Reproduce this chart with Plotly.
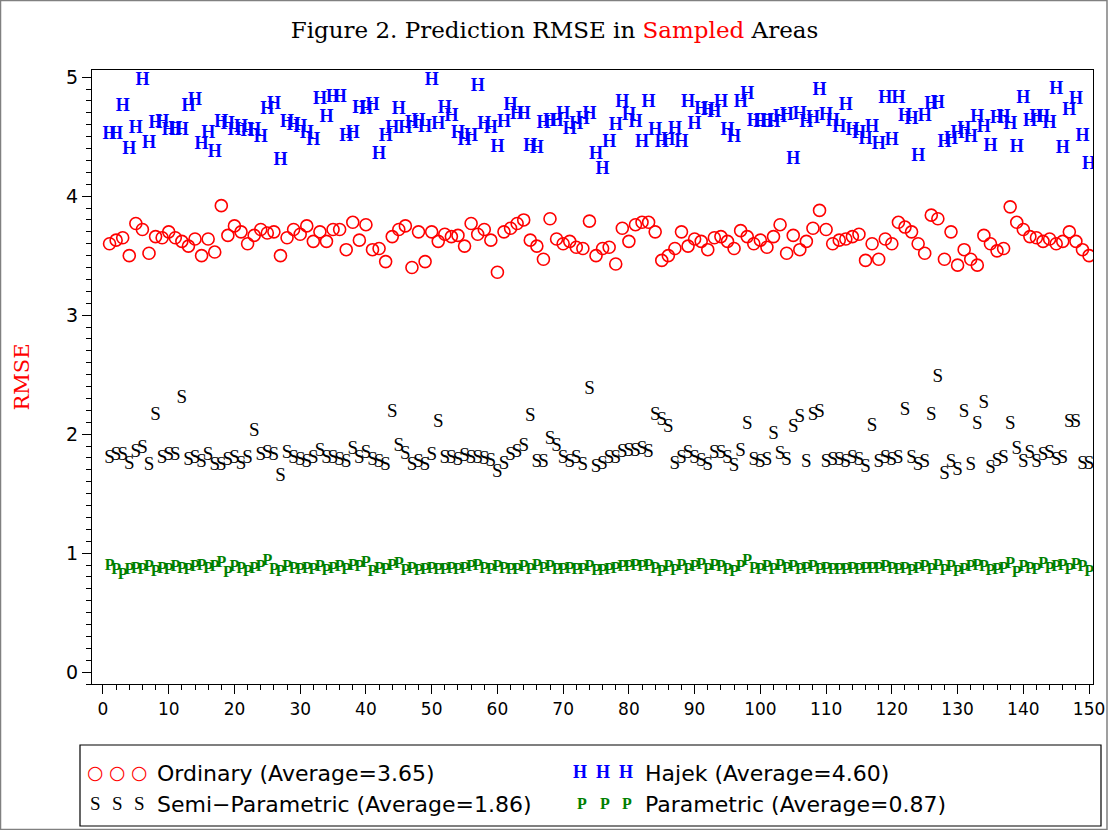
import plotly.graph_objects as go

areas = list(range(1, 151))

hajek = [4.52, 4.52, 4.75, 4.39, 4.57, 4.97, 4.44, 4.61, 4.62, 4.55,
         4.56, 4.55, 4.75, 4.80, 4.43, 4.53, 4.37, 4.62, 4.60, 4.55,
         4.58, 4.54, 4.55, 4.49, 4.73, 4.77, 4.30, 4.62, 4.59, 4.58,
         4.53, 4.47, 4.81, 4.66, 4.83, 4.83, 4.50, 4.53, 4.74, 4.73,
         4.76, 4.35, 4.50, 4.57, 4.73, 4.57, 4.61, 4.63, 4.58, 4.97,
         4.60, 4.74, 4.67, 4.53, 4.47, 4.50, 4.92, 4.60, 4.57, 4.41,
         4.62, 4.76, 4.69, 4.69, 4.42, 4.40, 4.61, 4.63, 4.63, 4.69,
         4.56, 4.60, 4.64, 4.69, 4.35, 4.22, 4.45, 4.59, 4.79, 4.68,
         4.62, 4.45, 4.79, 4.55, 4.45, 4.47, 4.56, 4.45, 4.79, 4.60,
         4.73, 4.72, 4.70, 4.79, 4.55, 4.49, 4.79, 4.85, 4.63, 4.62,
         4.63, 4.62, 4.66, 4.68, 4.31, 4.69, 4.62, 4.65, 4.89, 4.68,
         4.63, 4.58, 4.76, 4.55, 4.53, 4.48, 4.58, 4.43, 4.82, 4.47,
         4.82, 4.67, 4.64, 4.33, 4.67, 4.77, 4.78, 4.45, 4.48, 4.53,
         4.56, 4.49, 4.66, 4.58, 4.42, 4.65, 4.66, 4.60, 4.41, 4.82,
         4.63, 4.66, 4.66, 4.61, 4.90, 4.40, 4.72, 4.81, 4.50, 4.27]

ordinary = [3.60, 3.63, 3.65, 3.50, 3.77, 3.72, 3.52, 3.66, 3.65, 3.70,
            3.65, 3.62, 3.58, 3.64, 3.50, 3.64, 3.53, 3.92, 3.67, 3.75,
            3.70, 3.60, 3.67, 3.72, 3.69, 3.70, 3.50, 3.65, 3.72, 3.68,
            3.75, 3.62, 3.70, 3.62, 3.72, 3.72, 3.55, 3.78, 3.63, 3.76,
            3.55, 3.56, 3.45, 3.66, 3.72, 3.75, 3.40, 3.70, 3.45, 3.70,
            3.62, 3.68, 3.66, 3.67, 3.58, 3.77, 3.68, 3.72, 3.63, 3.36,
            3.70, 3.73, 3.77, 3.80, 3.63, 3.58, 3.47, 3.81, 3.64, 3.60,
            3.62, 3.57, 3.56, 3.79, 3.50, 3.56, 3.57, 3.43, 3.73, 3.62,
            3.76, 3.78, 3.78, 3.70, 3.46, 3.50, 3.56, 3.70, 3.58, 3.64,
            3.62, 3.55, 3.65, 3.66, 3.62, 3.56, 3.71, 3.66, 3.60, 3.63,
            3.57, 3.66, 3.76, 3.52, 3.67, 3.55, 3.62, 3.73, 3.88, 3.72,
            3.60, 3.63, 3.64, 3.66, 3.68, 3.46, 3.60, 3.47, 3.64, 3.60,
            3.78, 3.74, 3.70, 3.60, 3.52, 3.84, 3.81, 3.47, 3.70, 3.42,
            3.55, 3.47, 3.42, 3.67, 3.60, 3.54, 3.56, 3.91, 3.78, 3.72,
            3.66, 3.65, 3.62, 3.64, 3.60, 3.62, 3.70, 3.62, 3.55, 3.50]

semi = [1.80, 1.82, 1.82, 1.75, 1.85, 1.88, 1.74, 2.16, 1.80, 1.82,
        1.82, 2.30, 1.78, 1.80, 1.76, 1.82, 1.74, 1.74, 1.78, 1.80,
        1.75, 1.80, 2.02, 1.82, 1.84, 1.82, 1.65, 1.84, 1.80, 1.78,
        1.76, 1.80, 1.86, 1.80, 1.80, 1.78, 1.76, 1.87, 1.80, 1.84,
        1.78, 1.76, 1.74, 2.18, 1.90, 1.83, 1.74, 1.76, 1.74, 1.82,
        2.10, 1.80, 1.80, 1.78, 1.81, 1.80, 1.80, 1.79, 1.77, 1.68,
        1.75, 1.82, 1.85, 1.90, 2.15, 1.76, 1.76, 1.96, 1.90, 1.80,
        1.76, 1.80, 1.74, 2.38, 1.72, 1.75, 1.80, 1.80, 1.85, 1.86,
        1.86, 1.87, 1.85, 2.16, 2.12, 2.06, 1.75, 1.80, 1.84, 1.80,
        1.77, 1.74, 1.84, 1.84, 1.80, 1.73, 1.86, 2.08, 1.78, 1.76,
        1.78, 2.00, 1.83, 1.78, 2.06, 2.14, 1.76, 2.16, 2.18, 1.76,
        1.78, 1.78, 1.76, 1.80, 1.78, 1.72, 2.07, 1.76, 1.80, 1.78,
        1.80, 2.20, 1.80, 1.74, 1.76, 2.16, 2.48, 1.66, 1.76, 1.70,
        2.18, 1.74, 2.08, 2.26, 1.71, 1.77, 1.80, 2.08, 1.87, 1.76,
        1.84, 1.76, 1.82, 1.84, 1.78, 1.80, 2.10, 2.10, 1.75, 1.75]

parametric = [0.89, 0.86, 0.82, 0.86, 0.87, 0.86, 0.88, 0.84, 0.87, 0.86,
              0.88, 0.87, 0.86, 0.88, 0.89, 0.87, 0.88, 0.92, 0.83, 0.88,
              0.87, 0.84, 0.87, 0.88, 0.93, 0.86, 0.84, 0.88, 0.87, 0.86,
              0.87, 0.86, 0.88, 0.85, 0.87, 0.88, 0.86, 0.89, 0.88, 0.92,
              0.84, 0.87, 0.86, 0.89, 0.91, 0.85, 0.87, 0.85, 0.86, 0.87,
              0.86, 0.86, 0.87, 0.86, 0.87, 0.88, 0.89, 0.87, 0.86, 0.88,
              0.87, 0.86, 0.86, 0.88, 0.86, 0.89, 0.87, 0.88, 0.86, 0.86,
              0.87, 0.86, 0.86, 0.88, 0.85, 0.85, 0.86, 0.87, 0.88, 0.88,
              0.89, 0.88, 0.89, 0.87, 0.84, 0.88, 0.85, 0.89, 0.86, 0.88,
              0.90, 0.86, 0.89, 0.88, 0.86, 0.84, 0.88, 0.93, 0.87, 0.86,
              0.88, 0.86, 0.89, 0.87, 0.88, 0.86, 0.87, 0.88, 0.86, 0.87,
              0.86, 0.86, 0.86, 0.87, 0.86, 0.87, 0.87, 0.87, 0.88, 0.87,
              0.86, 0.87, 0.85, 0.87, 0.88, 0.86, 0.89, 0.85, 0.88, 0.84,
              0.86, 0.88, 0.89, 0.88, 0.85, 0.86, 0.87, 0.91, 0.83, 0.88,
              0.87, 0.86, 0.91, 0.87, 0.88, 0.89, 0.86, 0.90, 0.88, 0.84]

legend_labels = ["Ordinary (Average=3.65)", "Hajek (Average=4.60)",
                 "Semi\u2212Parametric (Average=1.86)", "Parametric (Average=0.87)"]

x_ticks = list(range(0, 151, 10))
y_ticks = [0, 1, 2, 3, 4, 5]

SERIF = "DejaVu Serif"
SERIF2 = "Liberation Serif"
SANS = "DejaVu Sans"
BLUE = "#0000ff"
RED = "#ff0000"
GREEN = "#008000"

fig = go.Figure()
fig.add_trace(go.Scatter(x=areas, y=parametric, mode="text", text=["<b>P</b>"] * len(areas),
                         textfont=dict(family=SERIF2, size=16, color=GREEN), showlegend=False))
fig.add_trace(go.Scatter(x=areas, y=semi, mode="text", text=["S"] * len(areas),
                         textfont=dict(family=SERIF2, size=19, color="black"), showlegend=False))
fig.add_trace(go.Scatter(x=areas, y=ordinary, mode="markers",
                         marker=dict(symbol="circle-open", size=12, color=RED, line=dict(width=1.6, color=RED)),
                         showlegend=False))
fig.add_trace(go.Scatter(x=areas, y=hajek, mode="text", text=["<b>H</b>"] * len(areas),
                         textfont=dict(family=SERIF2, size=18, color=BLUE), showlegend=False))

# layout geometry (pixels)
L, R, T, B = 92, 1093, 70, 684
W, H = R - L, B - T
def px(xp):
    return (xp - L) / W
def py(yp):
    return (B - yp) / H

# outer figure border
fig.add_shape(type="rect", xref="paper", yref="paper", x0=px(0.5), x1=px(1107), y0=py(829.5), y1=py(0.5),
              line=dict(color="#808080", width=1.5))

# legend box (drawn manually)
fig.add_shape(type="rect", xref="paper", yref="paper", x0=px(80), x1=px(1101), y0=py(745), y1=py(826),
              line=dict(color="black", width=1.2), fillcolor="white")

rows = [772, 803]
sym_specs = [("\u25CB", RED, SANS, 19), ("<b>H</b>", BLUE, SERIF2, 18),
             ("S", "black", SERIF2, 19), ("<b>P</b>", GREEN, SERIF2, 16)]
sym_x = [[95, 117, 139], [580, 603, 626], [95, 117, 139], [582, 605, 627]]
text_x = [155, 643, 155, 643]
row_y = [rows[0], rows[0], rows[1], rows[1]]
for (st, sc, sf, ss), sxs, tx, ry, lab in zip(sym_specs, sym_x, text_x, row_y, legend_labels):
    for sx in sxs:
        fig.add_annotation(xref="paper", yref="paper", x=px(sx), y=py(ry), text=st, showarrow=False,
                           xanchor="center", yanchor="middle", font=dict(family=sf, size=ss, color=sc))
    fig.add_annotation(xref="paper", yref="paper", x=px(tx), y=py(ry + 1), text=lab, showarrow=False,
                       xanchor="left", yanchor="middle", font=dict(family=SANS, size=22, color="black"))

fig.update_layout(
    width=1109, height=830,
    margin=dict(l=L, r=1109 - R, t=T, b=830 - B, autoexpand=False),
    paper_bgcolor="white", plot_bgcolor="white",
    title=dict(text="Figure 2. Prediction RMSE in <span style='color:#ff0000'>Sampled</span> Areas",
               x=0.5, xanchor="center", y=1 - 30 / 830, yanchor="middle",
               font=dict(family=SERIF, size=23, color="black")),
    xaxis=dict(range=[-1.67, 150.6], tickmode="array", tickvals=x_ticks, ticktext=[str(v) for v in x_ticks],
               ticks="outside", ticklen=9, tickwidth=1.2, tickcolor="black",
               showline=True, linecolor="black", linewidth=1.2, mirror=True, showgrid=False, zeroline=False,
               tickfont=dict(family=SANS, size=17, color="black"), automargin=False,
               minor=dict(dtick=2, ticks="outside", ticklen=5, tickcolor="black", tickwidth=1, showgrid=False)),
    yaxis=dict(range=[-0.1, 5.06], tickmode="array", tickvals=y_ticks, ticktext=[str(v) for v in y_ticks],
               ticks="outside", ticklen=9, tickwidth=1.2, tickcolor="black",
               showline=True, linecolor="black", linewidth=1.2, mirror=True, showgrid=False, zeroline=False,
               tickfont=dict(family=SANS, size=19, color="black"), automargin=False,
               title=dict(text="RMSE", font=dict(family=SERIF, size=21, color=RED), standoff=30),
               minor=dict(dtick=0.1, ticks="outside", ticklen=5, tickcolor="black", tickwidth=1, showgrid=False)),
)

fig.write_html("out.html", config={"displayModeBar": False},
               post_script="document.body.style.margin='0px';")
